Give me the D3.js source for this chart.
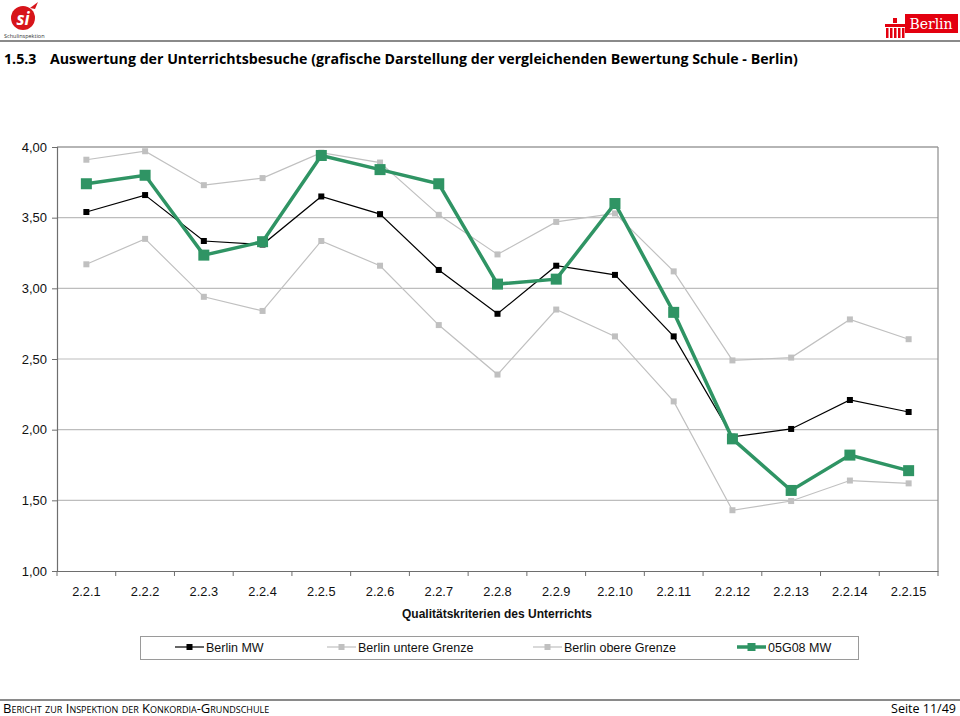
<!DOCTYPE html>
<html><head><meta charset="utf-8">
<script src="https://cdn.jsdelivr.net/npm/d3@7"></script>
<style>
html,body{margin:0;padding:0;background:#fff;}
svg{display:block;}
</style></head>
<body>
<svg id="chart" width="960" height="716"></svg>
<script>
const categories = ["2.2.1","2.2.2","2.2.3","2.2.4","2.2.5","2.2.6","2.2.7","2.2.8","2.2.9","2.2.10","2.2.11","2.2.12","2.2.13","2.2.14","2.2.15"];
const berlinMW     = [3.54,3.66,3.335,3.31,3.65,3.525,3.13,2.82,3.16,3.095,2.66,1.95,2.005,2.21,2.125];
const berlinUntere = [3.17,3.35,2.94,2.84,3.335,3.16,2.74,2.39,2.85,2.66,2.20,1.43,1.495,1.64,1.62];
const berlinObere  = [3.91,3.97,3.73,3.78,3.96,3.89,3.52,3.24,3.47,3.53,3.12,2.49,2.51,2.78,2.64];
const schuleMW     = [3.74,3.80,3.235,3.33,3.94,3.84,3.74,3.03,3.065,3.60,2.83,1.935,1.57,1.82,1.71];
const seriesNames  = ["Berlin MW","Berlin untere Grenze","Berlin obere Grenze","05G08 MW"];
const yTicks = [1.0,1.5,2.0,2.5,3.0,3.5,4.0];

const svg = d3.select("#chart");
const L = 57, R = 938, T = 147, B = 571;
const x = d3.scaleBand().domain(categories).range([L, R]).padding(0);
const y = d3.scaleLinear().domain([1, 4]).range([B, T]);
const fmt = v => d3.format(".2f")(v).replace(".", ",");
const chartFont = "'Liberation Sans', Arial, sans-serif";
const docFont = "'Open Sans', 'DejaVu Sans', sans-serif";

// ---- header ----
svg.append("line").attr("x1",0).attr("x2",960).attr("y1",41).attr("y2",41)
  .attr("stroke","#8a8a8a").attr("stroke-width",2);
// si logo
const logo = svg.append("g");
logo.append("ellipse").attr("cx",23).attr("cy",18).attr("rx",12).attr("ry",12).attr("fill","#d7141a");
logo.append("text").attr("x",23).attr("y",25).attr("text-anchor","middle")
  .attr("font-family",docFont).attr("font-weight","bold").attr("font-style","italic")
  .attr("font-size",17).attr("fill","#fff").text("si");
logo.append("path").attr("d","M30 8 L38 2 L35 9 Z").attr("fill","#d7141a");
logo.append("text").attr("x",4).attr("y",38).attr("font-family",docFont)
  .attr("font-size",5.5).attr("fill","#333").text("Schulinspektion");
// Berlin logo
const bl = svg.append("g");
bl.append("rect").attr("x",905).attr("y",14).attr("width",53).attr("height",19).attr("fill","#e3000f");
bl.append("text").attr("x",931).attr("y",29).attr("text-anchor","middle")
  .attr("font-family","'DejaVu Serif', serif").attr("font-size",14).attr("fill","#fff").text("Berlin");
bl.append("rect").attr("x",885).attr("y",24).attr("width",20).attr("height",3).attr("fill","#e3000f");
[886,890,894,898,902].forEach(px => bl.append("rect").attr("x",px).attr("y",28).attr("width",2.5).attr("height",10).attr("fill","#e3000f"));
bl.append("rect").attr("x",893).attr("y",18).attr("width",4).attr("height",5).attr("fill","#e3000f");

// title
const title = svg.append("text").attr("y",64).attr("font-family",docFont)
  .attr("font-weight","bold").attr("font-size",14.2).attr("fill","#000");
title.append("tspan").attr("x",4).text("1.5.3");
title.append("tspan").attr("x",50).text("Auswertung der Unterrichtsbesuche (grafische Darstellung der vergleichenden Bewertung Schule - Berlin)");

// ---- gridlines ----
svg.append("g").selectAll("line").data(yTicks.filter(v => v > 1)).join("line")
  .attr("x1",L).attr("x2",R).attr("y1",d=>y(d)).attr("y2",d=>y(d))
  .attr("stroke","#bdbdbd").attr("stroke-width",1.2);
svg.append("line").attr("x1",R).attr("x2",R).attr("y1",T).attr("y2",B).attr("stroke","#8c8c8c").attr("stroke-width",1.2);
svg.append("line").attr("x1",L).attr("x2",R).attr("y1",T).attr("y2",T).attr("stroke","#8c8c8c").attr("stroke-width",1.2);

// axes
const yAxis = d3.axisLeft(y).tickValues(yTicks).tickFormat(fmt).tickSize(5).tickPadding(5);
const gy = svg.append("g").attr("transform",`translate(${L},0)`).call(yAxis);
gy.select(".domain").attr("stroke","#6e6e6e").attr("stroke-width",1.2);
gy.selectAll(".tick line").attr("stroke","#6e6e6e");
gy.selectAll("text").attr("font-family",chartFont).attr("font-size",13).attr("fill","#111");

const xAxis = d3.axisBottom(x).tickSize(0).tickPadding(16);
const gx = svg.append("g").attr("transform",`translate(0,${B})`).call(xAxis);
gx.select(".domain").attr("stroke","#6e6e6e").attr("stroke-width",1.2);
gx.selectAll("text").attr("font-family",chartFont).attr("font-size",12.8).attr("fill","#111");
svg.append("g").selectAll("line").data(categories.concat(["end"])).join("line")
  .attr("x1",(d,i)=>L + i*x.bandwidth()).attr("x2",(d,i)=>L + i*x.bandwidth())
  .attr("y1",B).attr("y2",B+5).attr("stroke","#6e6e6e");

svg.append("text").attr("x",497).attr("y",618).attr("text-anchor","middle")
  .attr("font-family",chartFont).attr("font-weight","bold").attr("font-size",12).attr("fill","#111")
  .text("Qualitätskriterien des Unterrichts");

// ---- series ----
const cx = i => x(categories[i]) + x.bandwidth()/2;
const series = [
  {name: seriesNames[0], data: berlinMW,     color:"#000000", lw:1.2, ms:6},
  {name: seriesNames[1], data: berlinUntere, color:"#c0c0c0", lw:1.2, ms:6},
  {name: seriesNames[2], data: berlinObere,  color:"#c0c0c0", lw:1.2, ms:6},
  {name: seriesNames[3], data: schuleMW,     color:"#2f9464", lw:3.5, ms:11}
];
const line = d3.line().x((d,i)=>cx(i)).y(d=>y(d));
series.forEach(s => {
  const g = svg.append("g");
  g.append("path").attr("d",line(s.data)).attr("fill","none").attr("stroke",s.color).attr("stroke-width",s.lw);
  g.selectAll("rect").data(s.data).join("rect")
    .attr("x",(d,i)=>cx(i)-s.ms/2).attr("y",d=>y(d)-s.ms/2)
    .attr("width",s.ms).attr("height",s.ms).attr("fill",s.color);
});

// ---- legend ----
svg.append("rect").attr("x",140.5).attr("y",636.5).attr("width",718).attr("height",23)
  .attr("fill","#fff").attr("stroke","#9a9a9a").attr("stroke-width",1);
const legX = [175, 327, 533, 737];
series.forEach((s,i) => {
  const g = svg.append("g").attr("transform",`translate(${legX[i]},647)`);
  g.append("line").attr("x1",0).attr("x2",29).attr("stroke",s.color).attr("stroke-width",s.lw);
  const m = i===3 ? 8 : 6;
  g.append("rect").attr("x",14.5-m/2).attr("y",-m/2).attr("width",m).attr("height",m).attr("fill",s.color);
  g.append("text").attr("x",31).attr("y",4.5).attr("font-family",chartFont).attr("font-size",12.5)
    .attr("fill","#111").text(s.name);
});

// ---- footer ----
svg.append("line").attr("x1",0).attr("x2",960).attr("y1",700).attr("y2",700)
  .attr("stroke","#8a8a8a").attr("stroke-width",2);
svg.append("text").attr("x",3).attr("y",713).attr("font-family",docFont).attr("font-size",13)
  .attr("font-variant","small-caps").attr("fill","#000").text("Bericht zur Inspektion der Konkordia-Grundschule");
svg.append("text").attr("x",956).attr("y",713).attr("text-anchor","end").attr("font-family",docFont)
  .attr("font-size",12.5).attr("fill","#000").text("Seite 11/49");
</script>
</body></html>
